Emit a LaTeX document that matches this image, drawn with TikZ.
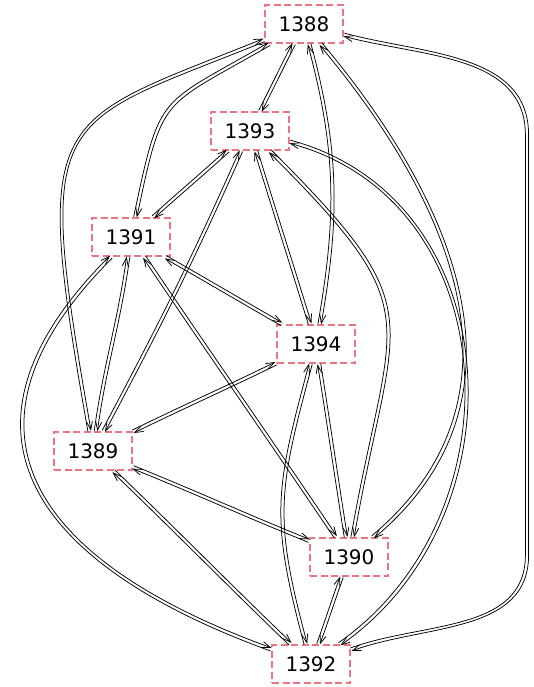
\documentclass[tikz,border=0pt]{standalone}
\usepackage{fontspec}
\setmainfont{DejaVu Sans}
\usetikzlibrary{arrows.meta}

\definecolor{boxred}{RGB}{236,118,128}

\newcommand{\pairgap}{1.6}
% one arrow each way, side by side
\newcommand{\pair}[5]{%
  \draw[edge] ([shift={(#3+90:\pairgap)}]#1.#3) to[out=#3,in=#4,#5] ([shift={(#4-90:\pairgap)}]#2.#4);
  \draw[edge] ([shift={(#4+90:\pairgap)}]#2.#4) to[out=#4,in=#3,#5] ([shift={(#3-90:\pairgap)}]#1.#3);
}

\begin{document}
\begin{tikzpicture}[
    x = 1pt, y = 1pt,
    year/.style = {draw = boxred, dash pattern = on 7pt off 3.5pt,
      line width = 1.9pt, fill = white, inner sep = 0pt,
      minimum width = 78pt, minimum height = 38pt,
      font = \fontsize{20}{24}\selectfont},
    edge/.style = {-{Straight Barb[length=8.5pt,width=6pt]}, line width = 0.75pt}
    ]
    \useasboundingbox (0,-687) rectangle (533,0);

    \node[year] (y1388) at (304,-24) {1388};
    \node[year] (y1393) at (250,-131) {1393};
    \node[year] (y1391) at (131,-237) {1391};
    \node[year] (y1394) at (316,-344) {1394};
    \node[year] (y1389) at (93,-451) {1389};
    \node[year] (y1390) at (349,-557) {1390};
    \node[year] (y1392) at (311,-664) {1392};

    % from 1388
    \pair{y1388}{y1393}{243}{63}{}
    \pair{y1388}{y1391}{210}{78}{looseness=1.5}
    \pair{y1388}{y1394}{285}{80}{}
    \pair{y1388}{y1390}{310}{40}{looseness=1.1}

    % 1388 - 1389 round the left side
    \draw[edge] ([shift={(292:\pairgap)}]y1388.202) to[out=202,in=100,out distance=230pt,in distance=330pt]
      ([shift={(10:\pairgap)}]y1389.100);
    \draw[edge] ([shift={(190:\pairgap)}]y1389.100) to[out=100,in=202,out distance=330pt,in distance=230pt]
      ([shift={(112:\pairgap)}]y1388.202);

    % 1388 - 1392 round the right side
    \coordinate (rtop) at (527,-135);
    \coordinate (rbot) at (527,-555);
    \draw[edge] ([shift={(75:\pairgap)}]y1388.345) to[out=345,in=90] ([xshift=\pairgap pt]rtop)
      -- ([xshift=\pairgap pt]rbot) to[out=270,in=20] ([shift={(290:\pairgap)}]y1392.20);
    \draw[edge] ([shift={(110:\pairgap)}]y1392.20) to[out=20,in=270] ([xshift=-\pairgap pt]rbot)
      -- ([xshift=-\pairgap pt]rtop) to[out=90,in=345] ([shift={(255:\pairgap)}]y1388.345);

    % from 1393
    \pair{y1393}{y1391}{222}{42}{}
    \pair{y1393}{y1394}{287}{107}{}
    \pair{y1393}{y1389}{246}{62}{}
    \pair{y1393}{y1390}{315}{80}{looseness=1.5}
    \pair{y1393}{y1392}{345}{35}{looseness=1.14}

    % from 1391
    \pair{y1391}{y1394}{330}{150}{}
    \pair{y1391}{y1389}{262}{82}{}
    \pair{y1391}{y1390}{304}{124}{}
    \pair{y1391}{y1392}{225}{160}{looseness=1.5}

    % from 1394
    \pair{y1394}{y1389}{206}{26}{}
    \pair{y1394}{y1390}{279}{99}{}
    \pair{y1394}{y1392}{255}{105}{looseness=1.2}

    % the rest
    \pair{y1389}{y1390}{338}{158}{}
    \pair{y1389}{y1392}{316}{136}{}
    \pair{y1390}{y1392}{250}{70}{}
\end{tikzpicture}
\end{document}
